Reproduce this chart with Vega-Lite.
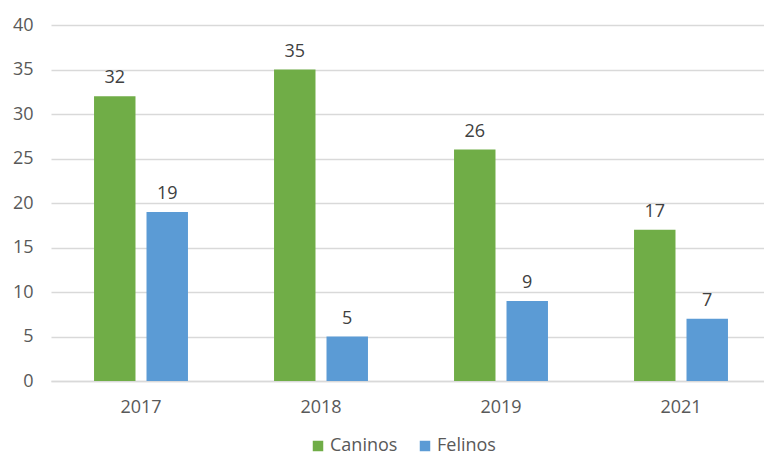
{
  "$schema": "https://vega.github.io/schema/vega-lite/v6.json",
  "width": 713,
  "height": 356,
  "autosize": {"type": "none"},
  "padding": {"left": 51, "top": 25, "right": 0, "bottom": 76},
  "background": "white",
  "config": {
    "view": {"stroke": null},
    "font": "Open Sans",
    "text": {"font": "Open Sans"}
  },
  "data": {
    "values": [
      {"year": "2017", "tipo": "Caninos", "value": 32},
      {"year": "2017", "tipo": "Felinos", "value": 19},
      {"year": "2018", "tipo": "Caninos", "value": 35},
      {"year": "2018", "tipo": "Felinos", "value": 5},
      {"year": "2019", "tipo": "Caninos", "value": 26},
      {"year": "2019", "tipo": "Felinos", "value": 9},
      {"year": "2021", "tipo": "Caninos", "value": 17},
      {"year": "2021", "tipo": "Felinos", "value": 7}
    ]
  },
  "encoding": {
    "x": {
      "field": "year", "type": "nominal",
      "scale": {"paddingInner": 0, "paddingOuter": 0, "range": [0, 720]},
      "axis": {
        "title": null, "labelAngle": 0, "ticks": false, "tickSize": 0,
        "labelFontSize": 18, "labelColor": "#595959", "labelPadding": 17,
        "domainColor": "#d9d9d9", "domainWidth": 1.5, "grid": false
      }
    },
    "xOffset": {"field": "tipo", "type": "nominal", "scale": {"paddingInner": 0.21, "paddingOuter": 0.82}},
    "y": {
      "field": "value", "type": "quantitative",
      "scale": {"domain": [0, 40]},
      "axis": {
        "title": null, "values": [0,5,10,15,20,25,30,35,40],
        "labelOverlap": false,
        "ticks": false, "tickSize": 0, "domain": false,
        "labelFontSize": 18, "labelColor": "#595959", "labelPadding": 18,
        "gridColor": "#d9d9d9", "gridWidth": 1.5
      }
    }
  },
  "layer": [
    {
      "mark": {"type": "bar"},
      "encoding": {
        "color": {
          "field": "tipo", "type": "nominal",
          "scale": {"domain": ["Caninos", "Felinos"], "range": ["#70AD47", "#5B9BD5"]},
          "legend": {
            "title": null, "orient": "none", "direction": "horizontal",
            "legendX": 258, "legendY": 412, "padding": 0,
            "symbolType": "square", "symbolSize": 110, "symbolStrokeWidth": 0,
            "labelFontSize": 18, "labelColor": "#595959", "columnPadding": 18, "symbolOffset": 0, "labelOffset": 3
          }
        }
      }
    },
    {
      "mark": {"type": "text", "baseline": "bottom", "dy": -9, "fontSize": 18, "color": "#404040"},
      "encoding": {"text": {"field": "value", "type": "quantitative"}}
    }
  ]
}
